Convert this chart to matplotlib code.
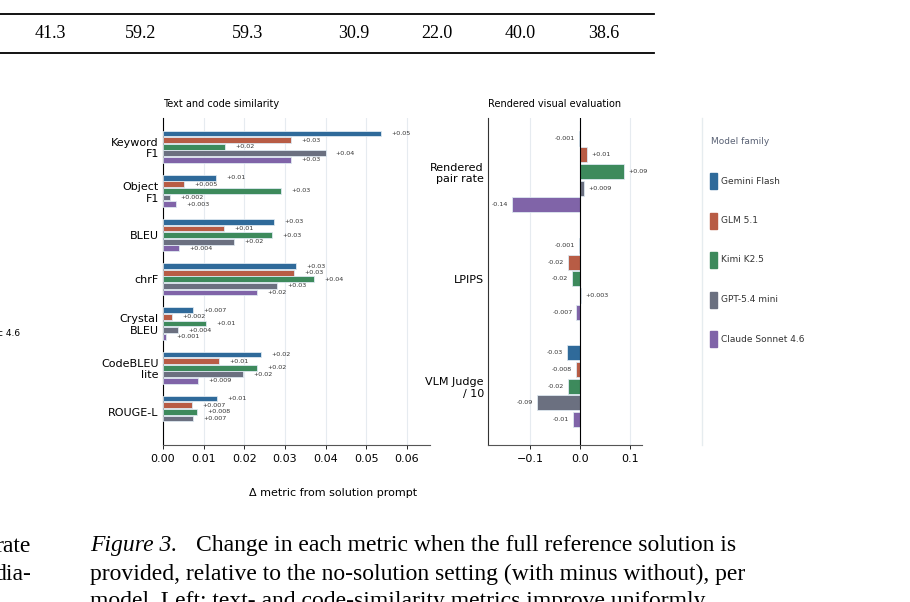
import matplotlib
matplotlib.use("Agg")
import matplotlib.pyplot as plt
import numpy as np
from matplotlib.patches import Rectangle
from matplotlib.lines import Line2D

models = ["Gemini Flash", "GLM 5.1", "Kimi K2.5", "GPT-5.4 mini", "Claude Sonnet 4.6"]
colors = ["#2f6a9a", "#b85c45", "#3d8a5c", "#6b7080", "#8064a8"]

text_metrics = ["Keyword\nF1", "Object\nF1", "BLEU", "chrF", "Crystal\nBLEU", "CodeBLEU\nlite", "ROUGE-L"]
text_vals = {
    "Gemini Flash":      [0.0536, 0.0130, 0.0273, 0.0327, 0.0074, 0.0241, 0.0133],
    "GLM 5.1":           [0.0315, 0.0052, 0.0150, 0.0322, 0.0022, 0.0138, 0.0071],
    "Kimi K2.5":         [0.0152, 0.0290, 0.0268, 0.0371, 0.0106, 0.0231, 0.0084],
    "GPT-5.4 mini":      [0.0400, 0.0017, 0.0175, 0.0280, 0.0037, 0.0197, 0.0074],
    "Claude Sonnet 4.6": [0.0315, 0.0032, 0.0039, 0.0231, 0.0007, 0.0086, np.nan],
}
vis_metrics = ["Rendered\npair rate", "LPIPS", "VLM Judge\n/ 10"]
vis_vals = {
    "Gemini Flash":      [-0.001, -0.001, -0.026],
    "GLM 5.1":           [0.014, -0.024, -0.008],
    "Kimi K2.5":         [0.088, -0.016, -0.024],
    "GPT-5.4 mini":      [0.009, 0.003, -0.086],
    "Claude Sonnet 4.6": [-0.136, -0.007, -0.014],
}
table_row = ["41.3", "59.2", "59.3", "30.9", "22.0", "40.0", "38.6"]
table_x = [50, 141, 248, 354, 437, 520, 604]

def fmt(v):
    s = "+" if v >= 0 else "-"
    a = abs(v)
    if a >= 0.0095:
        return f"{s}{a:.2f}"
    return f"{s}{a:.3f}"

W, H = 910, 602
fig = plt.figure(figsize=(W/100, H/100), dpi=100)
def fx(x): return x / W
def fy(y): return 1 - y / H

# page text
serif = ["Liberation Serif", "DejaVu Serif"]
cs = 17
fig.add_artist(Line2D([0, fx(654)], [fy(14), fy(14)], color="black", lw=1.3))
fig.add_artist(Line2D([0, fx(654)], [fy(53), fy(53)], color="black", lw=1.3))
for x, t in zip(table_x, table_row):
    fig.text(fx(x), fy(33), t, family=serif, fontsize=13, ha="center", va="center")
fig.text(fx(90), fy(546), "Figure 3.", family=serif, style="italic", fontsize=cs, va="center")
fig.text(fx(196), fy(546), "Change in each metric when the full reference solution is",
         family=serif, fontsize=cs, va="center")
fig.text(fx(90), fy(574), "provided, relative to the no-solution setting (with minus without), per",
         family=serif, fontsize=cs, va="center")
fig.text(fx(90), fy(602), "model. Left: text- and code-similarity metrics improve uniformly",
         family=serif, fontsize=cs, va="center")
fig.text(fx(31), fy(546), "rate", family=serif, fontsize=cs, va="center", ha="right")
fig.text(fx(31), fy(574), "dia-", family=serif, fontsize=cs, va="center", ha="right")
fig.text(fx(20), fy(333), "c 4.6", fontsize=6.5, va="center", ha="right")

# left panel
ax1 = fig.add_axes([fx(163), fy(445), fx(430 - 163), (445 - 118) / H])
step, bh = 0.15, 0.13
y = np.arange(len(text_metrics))
for i, m in enumerate(models):
    vals = np.array(text_vals[m])
    yy = y - 0.3 + i * step
    ax1.barh(yy, vals, height=bh, color=colors[i], edgecolor="#dde8f0", linewidth=0.6, zorder=3)
    for yi, v in zip(yy, vals):
        if np.isnan(v):
            continue
        ax1.text(v + 0.0025, yi, fmt(v), fontsize=4.6, color="#333333", va="center", ha="left")
ax1.set_ylim(6.75, -0.65)
ax1.set_xlim(0, 0.0657)
ax1.set_yticks(y)
ax1.set_yticklabels(text_metrics, fontsize=8, multialignment="right")
ax1.set_xticks(np.arange(0, 0.061, 0.01))
ax1.set_xticklabels([f"{v:.2f}" for v in np.arange(0, 0.061, 0.01)], fontsize=8)
ax1.tick_params(axis="y", length=0, pad=3)
ax1.tick_params(axis="x", length=3, width=0.6)
ax1.grid(axis="x", color="#e6ebf0", lw=0.8, zorder=0)
for s in ["top", "right"]:
    ax1.spines[s].set_visible(False)
ax1.spines["left"].set_color("black")
ax1.spines["bottom"].set_color("#555555")
ax1.set_title("Text and code similarity", fontsize=7, loc="left", pad=8)

# right panel
ax2 = fig.add_axes([fx(488), fy(445), fx(642 - 488), (445 - 118) / H])
step2, bh2 = 0.155, 0.14
y2 = np.arange(len(vis_metrics))
for i, m in enumerate(models):
    vals = np.array(vis_vals[m])
    yy = y2 - 0.31 + i * step2
    ax2.barh(yy, vals, height=bh2, color=colors[i], edgecolor="#dde8f0", linewidth=0.6, zorder=3)
    for yi, v in zip(yy, vals):
        if v >= 0:
            ax2.text(v + 0.008, yi, fmt(v), fontsize=4.6, color="#333333", va="center", ha="left")
        else:
            ax2.text(v - 0.008, yi, fmt(v), fontsize=4.6, color="#333333", va="center", ha="right")
ax2.axvline(0, color="black", lw=0.8, zorder=4)
ax2.set_ylim(2.55, -0.5)
ax2.set_xlim(-0.184, 0.124)
ax2.set_yticks(y2)
ax2.set_yticklabels(vis_metrics, fontsize=8, multialignment="right")
ax2.set_xticks([-0.1, 0.0, 0.1])
ax2.set_xticklabels(["\u22120.1", "0.0", "0.1"], fontsize=8)
ax2.tick_params(axis="y", length=0, pad=3)
ax2.tick_params(axis="x", length=3, width=0.6)
ax2.grid(axis="x", color="#e6ebf0", lw=0.8, zorder=0)
for s in ["top", "right"]:
    ax2.spines[s].set_visible(False)
ax2.spines["left"].set_color("#333333")
ax2.spines["bottom"].set_color("#555555")
ax2.set_title("Rendered visual evaluation", fontsize=7, loc="left", pad=8)

fig.text(fx(333), fy(493), "\u0394 metric from solution prompt", fontsize=8, ha="center", va="center")

# legend
fig.add_artist(Line2D([fx(702), fx(702)], [fy(118), fy(445)], color="#e6ecef", lw=1))
fig.text(fx(711), fy(142), "Model family", fontsize=6.5, color="#5a6275", va="center")
for i, m in enumerate(models):
    yc = 181 + i * 39.5
    fig.add_artist(Rectangle((fx(710), fy(yc + 8)), fx(7), 16 / H, color=colors[i],
                             transform=fig.transFigure))
    fig.text(fx(721), fy(yc), m, fontsize=6.5, color="#333333", va="center")

fig.savefig("out.png", dpi=100)
